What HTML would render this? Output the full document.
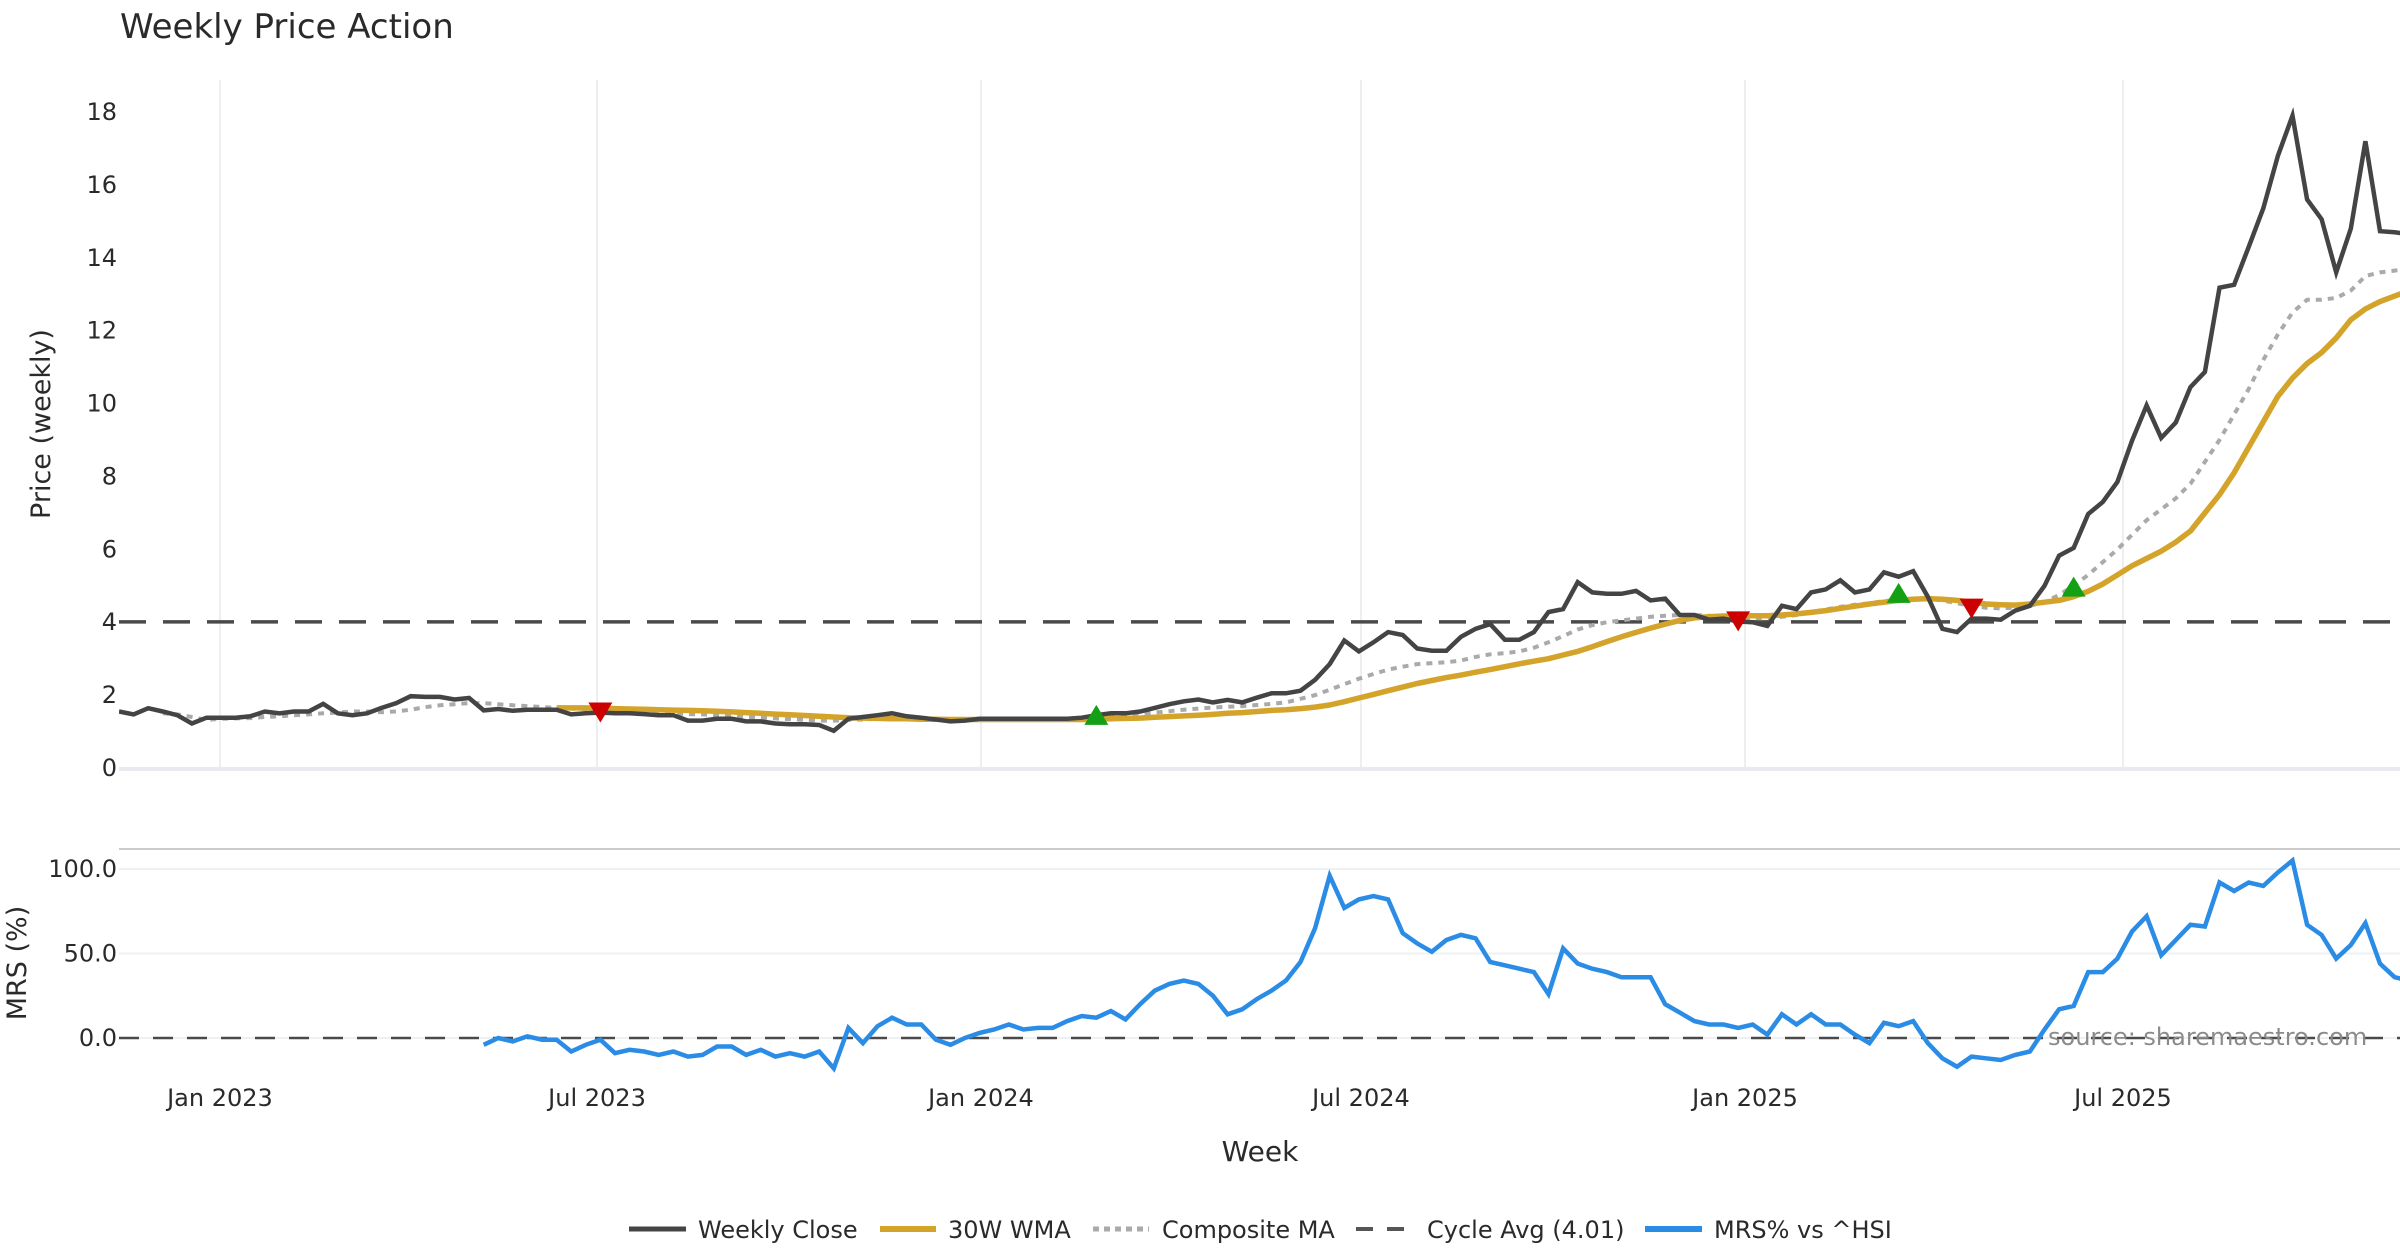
<!DOCTYPE html>
<html>
<head>
<meta charset="utf-8">
<style>
html,body{margin:0;padding:0;background:#fff;}
body{width:2400px;height:1260px;overflow:hidden;font-family:"DejaVu Sans","Liberation Sans",sans-serif;}
svg{display:block;}
text{font-family:"DejaVu Sans","Liberation Sans",sans-serif;fill:#2a2a2a;}
</style>
</head>
<body>
<svg id="chart" width="2400" height="1260" viewBox="0 0 2400 1260" xmlns="http://www.w3.org/2000/svg">
  <text x="120" y="38" font-size="34">Weekly Price Action</text>
  <g id="grid"></g>
  <g id="series"></g>
  <g id="axes"></g>
  <text transform="translate(50,424) rotate(-90)" text-anchor="middle" font-size="27">Price (weekly)</text>
  <text transform="translate(26,963) rotate(-90)" text-anchor="middle" font-size="27">MRS (%)</text>
  <text x="1260" y="1161" text-anchor="middle" font-size="28">Week</text>
  <text x="2048" y="1045" font-size="24" fill="#8a8a8a" style="fill:#8a8a8a">source: sharemaestro.com</text>
  <g id="legend">
    <line x1="629" y1="1229" x2="686" y2="1229" stroke="#444" stroke-width="5"/>
    <text x="698" y="1238" font-size="24">Weekly Close</text>
    <line x1="880" y1="1229" x2="936" y2="1229" stroke="#d4a32a" stroke-width="6"/>
    <text x="948" y="1238" font-size="24">30W WMA</text>
    <line x1="1093" y1="1229" x2="1149" y2="1229" stroke="#aaa" stroke-width="5" stroke-dasharray="6,5"/>
    <text x="1162" y="1238" font-size="24">Composite MA</text>
    <line x1="1356" y1="1229" x2="1412" y2="1229" stroke="#555" stroke-width="4" stroke-dasharray="17,14"/>
    <text x="1427" y="1238" font-size="24">Cycle Avg (4.01)</text>
    <line x1="1645" y1="1229" x2="1702" y2="1229" stroke="#2b8ce6" stroke-width="6"/>
    <text x="1714" y="1238" font-size="24">MRS% vs ^HSI</text>
  </g>
</svg>
<script>
const closeVals = [1.55,1.47,1.64,1.55,1.45,1.22,1.38,1.38,1.38,1.42,
1.55,1.5,1.55,1.55,1.76,1.5,1.45,1.5,1.65,1.78,
1.97,1.95,1.95,1.88,1.92,1.58,1.62,1.57,1.6,1.6,
1.6,1.47,1.5,1.52,1.5,1.5,1.48,1.45,1.45,1.3,
1.3,1.35,1.35,1.28,1.28,1.22,1.2,1.2,1.18,1.02,
1.35,1.4,1.45,1.5,1.42,1.38,1.33,1.28,1.3,1.35,
1.35,1.35,1.35,1.35,1.35,1.35,1.38,1.45,1.5,1.5,
1.55,1.65,1.75,1.83,1.88,1.8,1.87,1.8,1.93,2.05,
2.05,2.12,2.42,2.85,3.5,3.2,3.45,3.73,3.65,3.28,
3.22,3.22,3.6,3.82,3.95,3.52,3.52,3.73,4.28,4.36,
5.1,4.82,4.78,4.78,4.86,4.6,4.65,4.2,4.2,4.07,
4.1,4.02,4.0,3.9,4.45,4.36,4.82,4.9,5.15,4.82,
4.9,5.37,5.25,5.4,4.7,3.82,3.73,4.1,4.1,4.07,
4.32,4.45,5.0,5.83,6.04,6.97,7.3,7.85,8.98,9.95,
9.06,9.48,10.45,10.87,13.18,13.26,14.3,15.36,16.8,17.9,
15.6,15.06,13.6,14.8,17.2,14.73,14.7,14.65];
const compositeStart = 3;
const compositeVals = [1.5,1.47,1.4,1.32,1.35,1.36,1.37,
1.4,1.42,1.45,1.47,1.5,1.52,1.55,1.55,1.53,1.55,1.6,1.67,1.72,1.75,1.78,1.78,1.75,1.72,1.7,1.67,1.65,
1.63,1.62,1.6,1.58,1.56,1.55,1.53,1.5,1.48,1.47,1.45,1.43,1.4,1.38,1.36,1.34,1.32,1.3,1.3,1.32,
1.33,1.35,1.35,1.35,1.34,1.33,1.32,1.32,1.33,1.33,1.33,1.33,1.33,1.33,1.33,1.35,
1.38,1.42,1.45,1.48,1.52,1.56,1.6,1.63,1.66,1.68,1.7,1.73,1.76,1.8,1.9,2.0,
2.15,2.3,2.45,2.58,2.7,2.78,2.85,2.88,2.9,2.95,3.05,3.12,3.15,3.2,3.3,3.45,3.62,3.8,
3.92,4.0,4.05,4.1,4.15,4.18,4.2,4.2,4.18,4.15,4.12,4.12,4.1,
4.15,4.2,4.28,4.35,4.42,4.48,4.52,4.58,4.62,4.65,4.65,4.6,4.52,4.45,4.4,4.38,4.4,4.45,4.55,
4.75,5.0,5.3,5.65,6.0,6.4,6.8,7.1,7.4,7.8,8.4,9.0,9.7,10.4,11.2,11.9,12.5,12.85,12.85,12.9,13.1,13.5,13.6,13.65,13.7];
const wmaStart = 30;
const wmaVals = [1.65,1.65,1.65,1.64,1.63,1.62,1.61,1.6,1.59,1.58,1.57,1.56,1.54,1.52,1.5,1.48,1.46,1.44,1.42,1.4,1.38,
1.37,1.36,1.35,1.35,1.34,1.34,1.33,1.33,1.33,1.33,1.33,1.33,1.33,1.33,1.33,1.33,
1.34,1.35,1.36,1.37,1.39,1.41,1.43,1.45,1.47,1.5,1.52,1.55,1.58,1.6,1.63,1.67,1.73,
1.82,1.92,2.02,2.12,2.22,2.32,2.4,2.48,2.55,2.63,2.7,2.78,2.86,2.93,3.0,3.1,3.2,
3.33,3.47,3.6,3.72,3.84,3.95,4.05,4.12,4.15,4.17,4.18,4.18,4.18,
4.2,4.23,4.27,4.32,4.38,4.44,4.5,4.55,4.6,4.63,4.65,4.63,4.6,4.55,4.5,4.48,4.47,4.5,4.55,
4.6,4.7,4.85,5.05,5.3,5.55,5.75,5.95,6.2,6.5,7.0,7.5,8.1,8.8,9.5,10.2,10.7,11.1,11.4,11.8,12.3,12.6,12.8,12.95,13.1];
const mrsStart = 25;
const mrsVals = [-4,0,-2,1,-1,-1,-8,-4,-1,-9,-7,-8,-10,-8,-11,-10,-5,-5,-10,-7,-11,-9,-11,-8,-18,
6,-3,7,12,8,8,-1,-4,0,3,5,8,5,6,6,10,13,12,16,11,20,28,32,34,32,25,14,17,23,28,34,45,65,96,77,82,84,82,
62,56,51,58,61,59,45,43,41,39,26,53,44,41,39,36,36,36,20,15,10,8,8,6,8,2,14,8,14,8,8,2,-3,9,7,10,-3,
-12,-17,-11,-12,-13,-10,-8,5,17,19,39,39,47,63,72,49,58,67,66,92,87,92,90,98,105,67,61,47,55,68,44,36,34];
const cycleAvg = 4.01;
const sellWeeks = [33,111,127];
const sellVals = [1.55,4.05,4.4];
const buyWeeks = [67,122,134];
const buyVals = [1.43,4.78,4.95];
const priceTicks = [0,2,4,6,8,10,12,14,16,18];
const mrsTicks = [0,50,100];
const mrsTickLabels = ["0.0","50.0","100.0"];
const dateTickWeeks = [6.92,32.77,59.09,85.14,111.47,137.38];
const dateTickLabels = ["Jan 2023","Jul 2023","Jan 2024","Jul 2024","Jan 2025","Jul 2025"];

const NS = "http://www.w3.org/2000/svg";
const X0 = 119, STEP = 14.587;
function xS(i){ return X0 + i*STEP; }
function yP(v){ return 768 - v*36.44; }
function yM(v){ return 1038 - v*1.69; }
function mk(tag, attrs, parent){
  const e = document.createElementNS(NS, tag);
  for (const k in attrs) e.setAttribute(k, attrs[k]);
  parent.appendChild(e);
  return e;
}
const grid = document.getElementById('grid');
const series = document.getElementById('series');
const axes = document.getElementById('axes');

const defs = mk('defs', {}, document.getElementById('chart'));
const cp = mk('clipPath', {id:'plotclip'}, defs);
mk('rect', {x:119, y:60, width:2281, height:1100}, cp);
series.setAttribute('clip-path', 'url(#plotclip)');

dateTickWeeks.forEach((w, k) => {
  const l = mk('line', {x1:xS(w), x2:xS(w), y1:80, y2:768, stroke:'#eceef2', 'stroke-width':2}, grid);
  
  
  const t = mk('text', {x:xS(w), y:1106, 'text-anchor':'middle', 'font-size':24}, axes);
  t.textContent = dateTickLabels[k];
  
  
});
const pb = mk('line', {x1:119, x2:2400, y1:769, y2:769, stroke:'#e8eaf0', 'stroke-width':4}, grid);


const sep = mk('line', {x1:119, x2:2400, y1:849, y2:849, stroke:'#cccccc', 'stroke-width':2}, grid);



priceTicks.forEach(v => {
  const t = mk('text', {x:117, y:yP(v)+8, 'text-anchor':'end', 'font-size':24}, axes);
  t.textContent = String(v);
  
  
});
mrsTicks.forEach((v, k) => {
  const g = mk('line', {x1:119, x2:2400, y1:yM(v), y2:yM(v), stroke:'#eef0f4', 'stroke-width':2}, grid);
  
  
  const t = mk('text', {x:117, y:yM(v)+8, 'text-anchor':'end', 'font-size':24}, axes);
  t.textContent = mrsTickLabels[k];
  
  
});

function pathFrom(vals, start, yf){
  return vals.map((v, k) => (k ? 'L' : 'M') + xS(start + k).toFixed(1) + ' ' + yf(v).toFixed(1)).join(' ');
}
const ca = mk('line', {x1:119, x2:2400, y1:yP(cycleAvg), y2:yP(cycleAvg), stroke:'#4a4a4a', 'stroke-width':3.5, 'stroke-dasharray':'27,17'}, series);


const mz = mk('line', {x1:119, x2:2400, y1:yM(0), y2:yM(0), stroke:'#4a4a4a', 'stroke-width':2.5, 'stroke-dasharray':'20,14'}, series);



const comp = mk('path', {d:pathFrom(compositeVals, compositeStart, yP), fill:'none', stroke:'#aaaaaa', 'stroke-width':4, 'stroke-dasharray':'6,6'}, series);


const wma = mk('path', {d:pathFrom(wmaVals, wmaStart, yP), fill:'none', stroke:'#d4a32a', 'stroke-width':5.5, 'stroke-linejoin':'round'}, series);


const cl = mk('path', {d:pathFrom(closeVals, 0, yP), fill:'none', stroke:'#444444', 'stroke-width':4.5, 'stroke-linejoin':'miter'}, series);


const mrs = mk('path', {d:pathFrom(mrsVals, mrsStart, yM), fill:'none', stroke:'#2b8ce6', 'stroke-width':4.5, 'stroke-linejoin':'miter'}, series);



sellWeeks.forEach((w, k) => {
  const x = xS(w), y = yP(sellVals[k]);
  const p = mk('path', {d:`M${x-12} ${y-9} L${x+12} ${y-9} L${x} ${y+11} Z`, fill:'#cc0000'}, series);
  
  
});
buyWeeks.forEach((w, k) => {
  const x = xS(w), y = yP(buyVals[k]);
  const p = mk('path', {d:`M${x-12} ${y+9} L${x+12} ${y+9} L${x} ${y-11} Z`, fill:'#14a014'}, series);
  
  
});
</script>
</body>
</html>
